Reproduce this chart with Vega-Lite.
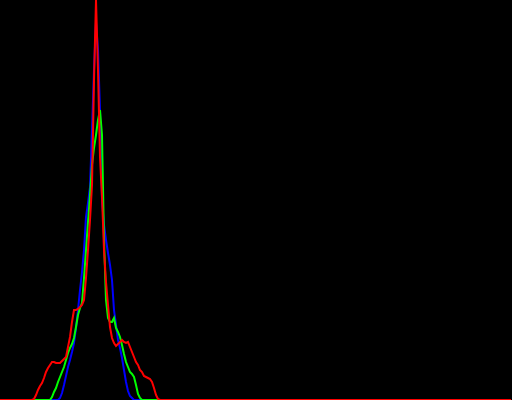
{
  "$schema": "https://vega.github.io/schema/vega-lite/v6.json",
  "width": 512,
  "height": 400,
  "padding": 0,
  "autosize": {"type": "none"},
  "background": "#000000",
  "config": {"view": {"stroke": null}},
  "data": {"values": [
    {"bin": 0, "b": 0, "g": 0, "r": 0},
    {"bin": 14, "b": 0, "g": 0, "r": 0},
    {"bin": 15, "b": 0, "g": 0, "r": 0},
    {"bin": 16, "b": 0, "g": 0, "r": 0},
    {"bin": 17, "b": 0, "g": 0, "r": 1},
    {"bin": 18, "b": 0, "g": 0, "r": 5},
    {"bin": 19, "b": 0, "g": 0, "r": 10},
    {"bin": 20, "b": 0, "g": 0, "r": 14},
    {"bin": 21, "b": 0, "g": 0, "r": 17},
    {"bin": 22, "b": 0, "g": 0, "r": 22},
    {"bin": 23, "b": 0, "g": 0, "r": 28},
    {"bin": 24, "b": 0, "g": 0, "r": 32},
    {"bin": 25, "b": 0, "g": 0, "r": 35},
    {"bin": 26, "b": 0, "g": 3, "r": 38},
    {"bin": 27, "b": 0, "g": 8, "r": 38},
    {"bin": 28, "b": 0, "g": 12, "r": 37},
    {"bin": 29, "b": 0, "g": 18, "r": 37},
    {"bin": 30, "b": 2, "g": 23, "r": 37},
    {"bin": 31, "b": 7, "g": 28, "r": 39},
    {"bin": 32, "b": 15, "g": 33, "r": 41},
    {"bin": 33, "b": 24, "g": 40, "r": 43},
    {"bin": 34, "b": 33, "g": 47, "r": 53},
    {"bin": 35, "b": 40, "g": 52, "r": 63},
    {"bin": 36, "b": 48, "g": 56, "r": 78},
    {"bin": 37, "b": 57, "g": 62, "r": 90},
    {"bin": 38, "b": 72, "g": 73, "r": 90},
    {"bin": 39, "b": 90, "g": 85, "r": 91},
    {"bin": 40, "b": 110, "g": 92, "r": 93},
    {"bin": 41, "b": 128, "g": 97, "r": 95},
    {"bin": 42, "b": 150, "g": 122, "r": 100},
    {"bin": 43, "b": 183, "g": 150, "r": 122},
    {"bin": 44, "b": 197, "g": 178, "r": 150},
    {"bin": 45, "b": 213, "g": 205, "r": 180},
    {"bin": 46, "b": 270, "g": 235, "r": 215},
    {"bin": 47, "b": 330, "g": 252, "r": 320},
    {"bin": 48, "b": 378, "g": 265, "r": 400},
    {"bin": 49, "b": 350, "g": 280, "r": 330},
    {"bin": 50, "b": 290, "g": 290, "r": 243},
    {"bin": 51, "b": 200, "g": 265, "r": 203},
    {"bin": 52, "b": 175, "g": 160, "r": 150},
    {"bin": 53, "b": 160, "g": 100, "r": 118},
    {"bin": 54, "b": 147, "g": 82, "r": 95},
    {"bin": 55, "b": 135, "g": 78, "r": 73},
    {"bin": 56, "b": 120, "g": 78, "r": 62},
    {"bin": 57, "b": 90, "g": 82, "r": 57},
    {"bin": 58, "b": 75, "g": 72, "r": 54},
    {"bin": 59, "b": 60, "g": 68, "r": 56},
    {"bin": 60, "b": 52, "g": 63, "r": 58},
    {"bin": 61, "b": 42, "g": 55, "r": 60},
    {"bin": 62, "b": 30, "g": 46, "r": 58},
    {"bin": 63, "b": 18, "g": 38, "r": 57},
    {"bin": 64, "b": 9, "g": 33, "r": 58},
    {"bin": 65, "b": 4, "g": 28, "r": 53},
    {"bin": 66, "b": 2, "g": 26, "r": 48},
    {"bin": 67, "b": 0, "g": 23, "r": 43},
    {"bin": 68, "b": 0, "g": 15, "r": 38},
    {"bin": 69, "b": 0, "g": 6, "r": 35},
    {"bin": 70, "b": 0, "g": 2, "r": 30},
    {"bin": 71, "b": 0, "g": 0, "r": 28},
    {"bin": 72, "b": 0, "g": 0, "r": 24},
    {"bin": 73, "b": 0, "g": 0, "r": 23},
    {"bin": 74, "b": 0, "g": 0, "r": 22},
    {"bin": 75, "b": 0, "g": 0, "r": 21},
    {"bin": 76, "b": 0, "g": 0, "r": 18},
    {"bin": 77, "b": 0, "g": 0, "r": 12},
    {"bin": 78, "b": 0, "g": 0, "r": 5},
    {"bin": 79, "b": 0, "g": 0, "r": 1},
    {"bin": 80, "b": 0, "g": 0, "r": 0},
    {"bin": 255, "b": 0, "g": 0, "r": 0}
  ]},
  "encoding": {
    "x": {"field": "bin", "type": "quantitative", "scale": {"domain": [0, 256], "nice": false, "zero": false}, "axis": null}
  },
  "layer": [
    {
      "mark": {"type": "line", "color": "#0000ff", "strokeWidth": 2, "strokeCap": "square"},
      "encoding": {"y": {"field": "b", "type": "quantitative", "scale": {"domain": [0, 400], "nice": false}, "axis": null}}
    },
    {
      "mark": {"type": "line", "color": "#00ff00", "strokeWidth": 2, "strokeCap": "square"},
      "encoding": {"y": {"field": "g", "type": "quantitative", "scale": {"domain": [0, 400], "nice": false}, "axis": null}}
    },
    {
      "mark": {"type": "line", "color": "#ff0000", "strokeWidth": 2, "strokeCap": "square"},
      "encoding": {"y": {"field": "r", "type": "quantitative", "scale": {"domain": [0, 400], "nice": false}, "axis": null}}
    }
  ]
}
